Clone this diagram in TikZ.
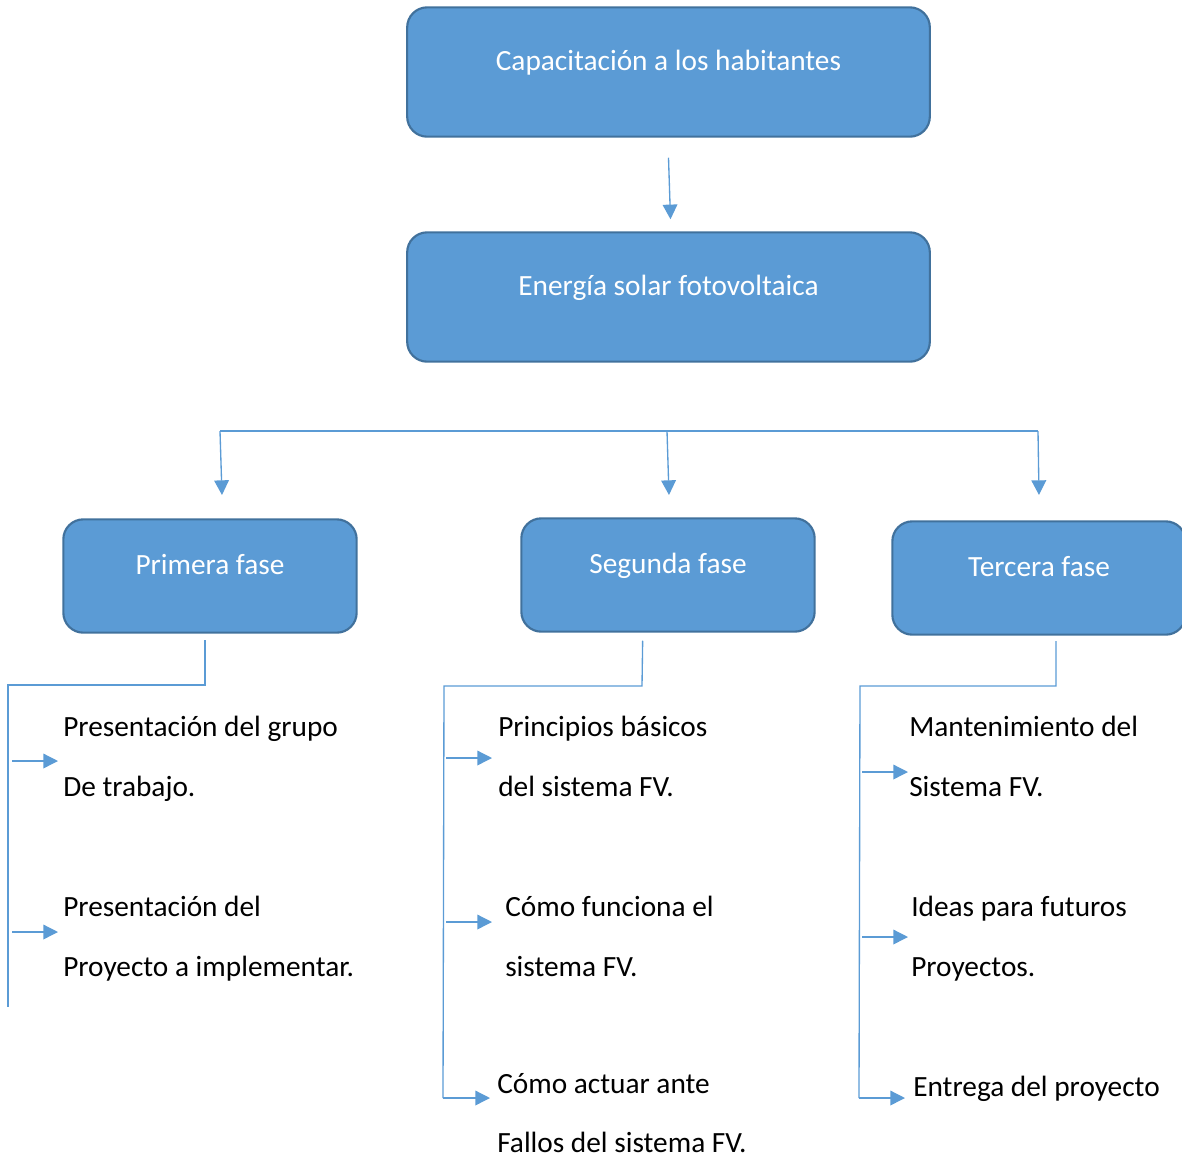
\documentclass[tikz,border=0pt]{standalone}
\usepackage{fontspec}
\setmainfont{Carlito}
\usetikzlibrary{arrows.meta}
\definecolor{boxfill}{HTML}{5B9BD5}
\definecolor{boxline}{HTML}{41719C}

\begin{document}
\begin{tikzpicture}[x=0.75pt,y=-0.75pt]
\tikzset{bigbox/.style = {draw=boxline,fill=boxfill,line width=1.6pt,rounded corners=15pt,
  text=white,inner sep=0pt,minimum width=392pt,text height=47pt,text depth=50pt,
  font=\fontsize{22}{26}\selectfont}}
\tikzset{phasebox/.style = {bigbox,minimum width=220pt,text height=41pt,text depth=44pt}}
\tikzset{item/.style = {anchor=base west,inner sep=0pt,align=left,
  font=\fontsize{22}{45}\selectfont}}
\tikzset{line/.style = {draw=boxfill,line width=1pt}}
\tikzset{arr/.style = {line,-{Triangle[length=11pt,width=11pt]}}}
\useasboundingbox (0,0) rectangle (1182,1158);
% boxes
\node[bigbox] (cap) at (668.5,72) {Capacitación a los habitantes};
\node[bigbox] (sol) at (668.5,297) {Energía solar fotovoltaica};
\node[phasebox] (f1) at (210,576) {Primera fase};
\node[phasebox] (f2) at (668,575) {Segunda fase};
\node[phasebox] (f3) at (1039,578) {Tercera fase};
% items (anchored on the last line)
\node[item] (t11) at (63,796) {Presentación del grupo\\De trabajo.};
\node[item] (t12) at (63,976) {Presentación del\\Proyecto a implementar.};
\node[item] (t21) at (498,796) {Principios básicos\\del sistema FV.};
\node[item] (t22) at (505,976) {Cómo funciona el\\sistema FV.};
\node[item] (t23) at (497,1152) {Cómo actuar ante\\[-1pt]Fallos del sistema FV.};
\node[item] (t31) at (909,796) {Mantenimiento del\\Sistema FV.};
\node[item] (t32) at (911,976) {Ideas para futuros\\Proyectos.};
\node[item] (t33) at (913,1096) {Entrega del proyecto};
% points
\coordinate (b1) at (220,431);
\coordinate (b2) at (667,431);
\coordinate (b3) at (1038,431);
\coordinate (e1) at (222,495);
\coordinate (e2) at (669,495);
\coordinate (e3) at (1039,495);
\coordinate (k1) at (205,685);
\coordinate (k2) at (642,686);
\coordinate (k3) at (1056,686);
\coordinate (r1) at (8,685);
\coordinate (r2) at (444,686);
\coordinate (r3) at (860,686);
%edges
\draw[arr] ([yshift=-15pt]cap.south) -- ([xshift=1.5pt,yshift=9pt]sol.north);
\draw[line] (b1) -- (b3);
\draw[arr] (b1) -- (e1);
\draw[arr] (b2) -- (e2);
\draw[arr] (b3) -- (e3);

\draw[line] ([xshift=-3.75pt,yshift=-5pt]f1.south) -- (k1) -- (r1) -- (8,1007);
\draw[arr] (12,761) -- (58,761);
\draw[arr] (12,932) -- (58,932);

\draw[line] ([xshift=-19pt,yshift=-6pt]f2.south) -- (k2) -- (r2) -- (443,1098);
\draw[arr] (443,1098) -- (490,1098);
\draw[arr] (446,758) -- (492,758);
\draw[arr] (446,922) -- (492,922);

\draw[line] ([xshift=12.75pt,yshift=-4pt]f3.south) -- (k3) -- (r3) -- (859,1098);
\draw[arr] (859,1098) -- (905,1098);
\draw[arr] (862,772) -- (908,772);
\draw[arr] (862,937) -- (908,937);
\end{tikzpicture}
\end{document}
